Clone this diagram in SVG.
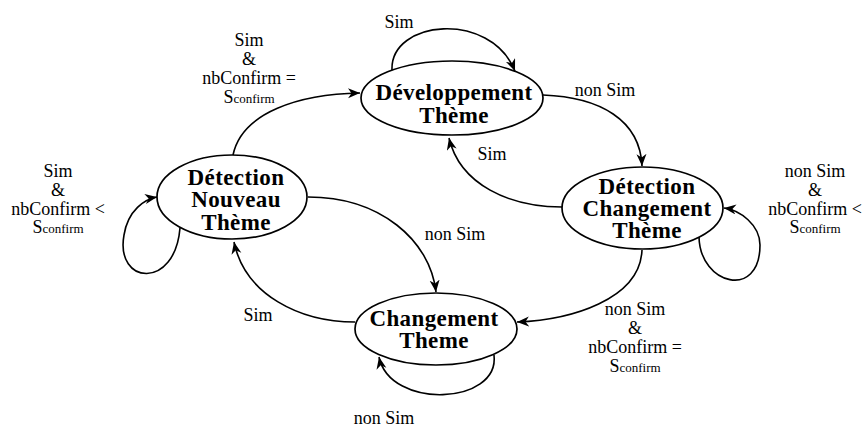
<svg xmlns="http://www.w3.org/2000/svg" width="868" height="428" viewBox="0 0 868 428">
<defs>
<marker id="arr" markerUnits="userSpaceOnUse" markerWidth="14" markerHeight="12" refX="12" refY="5" orient="auto">
<path d="M0,0 L12,5 L0,10 L3.5,5 Z" fill="#000"/>
</marker>
<style>
.node ellipse{fill:#fff;stroke:#000;stroke-width:1.7}
.node text{font-family:"Liberation Serif",serif;font-weight:bold;font-size:23px;letter-spacing:0.4px;text-anchor:middle;fill:#000}
.edges path{fill:none;stroke:#000;stroke-width:1.6;marker-end:url(#arr)}
.lbl{font-family:"Liberation Serif",serif;font-size:18px;text-anchor:middle;fill:#000}
.sub{font-size:13px}
</style>
</defs>
<rect width="868" height="428" fill="#fff"/>
<g id="edges" class="edges">
<path d="M392,70 C390,20 490,10 515,71"/>
<path d="M233,155 C242,112 300,94 360,93"/>
<path d="M543,95 C600,97 640,120 642,166"/>
<path d="M562,207 C510,207 460,185 449,138"/>
<path d="M699,237 C700,285 760,300 760,245 C760,225 740,210 724,208"/>
<path d="M642,250 C640,300 570,320 517,322"/>
<path d="M308,197 C380,197 430,240 436,292"/>
<path d="M355,322 C300,322 245,295 234,242"/>
<path d="M494,355 C500,405 390,410 379,357"/>
<path d="M180,228 C175,290 115,285 124,235 C128,210 145,199 157,197"/>
</g>
<g id="labels">
<text class="lbl" x="399" y="28">Sim</text>
<text class="lbl" x="249" y="46">Sim</text>
<text class="lbl" x="249" y="65">&amp;</text>
<text class="lbl" x="249" y="84">nbConfirm =</text>
<text class="lbl" x="249" y="103">S<tspan class="sub">confirm</tspan></text>
<text class="lbl" x="605" y="96">non Sim</text>
<text class="lbl" x="492" y="160">Sim</text>
<text class="lbl" x="58" y="177">Sim</text>
<text class="lbl" x="58" y="196">&amp;</text>
<text class="lbl" x="58" y="215">nbConfirm &lt;</text>
<text class="lbl" x="58" y="233">S<tspan class="sub">confirm</tspan></text>
<text class="lbl" x="815" y="177">non Sim</text>
<text class="lbl" x="815" y="196">&amp;</text>
<text class="lbl" x="815" y="215">nbConfirm &lt;</text>
<text class="lbl" x="815" y="233">S<tspan class="sub">confirm</tspan></text>
<text class="lbl" x="455" y="240">non Sim</text>
<text class="lbl" x="258" y="321">Sim</text>
<text class="lbl" x="635" y="315">non Sim</text>
<text class="lbl" x="635" y="334">&amp;</text>
<text class="lbl" x="635" y="353">nbConfirm =</text>
<text class="lbl" x="635" y="372">S<tspan class="sub">confirm</tspan></text>
<text class="lbl" x="384" y="424">non Sim</text>
</g>
<g id="dev" class="node">
<ellipse cx="452" cy="98" rx="91" ry="37"/>
<text x="454" y="100">Développement</text>
<text x="454" y="123">Thème</text>
</g>
<g id="dnt" class="node">
<ellipse cx="232" cy="197" rx="75" ry="42"/>
<text x="236" y="185">Détection</text>
<text x="236" y="207">Nouveau</text>
<text x="236" y="230">Thème</text>
</g>
<g id="dct" class="node">
<ellipse cx="642.5" cy="208" rx="80.5" ry="41"/>
<text x="647" y="194">Détection</text>
<text x="647" y="216">Changement</text>
<text x="647" y="238">Thème</text>
</g>
<g id="ch" class="node">
<ellipse cx="436" cy="329" rx="81" ry="36"/>
<text x="434" y="326">Changement</text>
<text x="434" y="348">Theme</text>
</g>
</svg>
